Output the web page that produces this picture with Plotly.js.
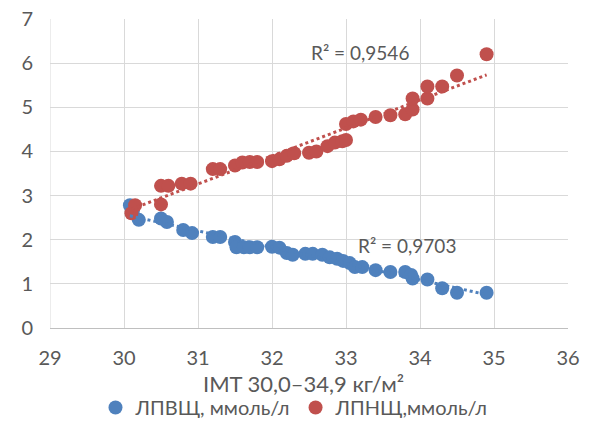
<!DOCTYPE html>
<html>
<head>
<meta charset="utf-8">
<script src="https://cdn.plot.ly/plotly-3.0.1.min.js"></script>
<style>html,body{margin:0;padding:0;background:#fff}#chart{width:589px;height:427px}</style>
</head>
<body>
<div id="chart"></div>
<script>
// Data
const hdlX = [30.08, 30.12, 30.2, 30.5, 30.58, 30.8, 30.92, 31.2, 31.3, 31.5, 31.52, 31.62, 31.7, 31.8, 32.0, 32.1, 32.2, 32.28, 32.45, 32.55, 32.68, 32.78, 32.88, 32.96, 33.05, 33.12, 33.22, 33.4, 33.6, 33.8, 33.88, 33.9, 34.1, 34.3, 34.5, 34.9];
const hdlY = [2.78, 2.65, 2.45, 2.48, 2.40, 2.22, 2.15, 2.06, 2.06, 1.95, 1.83, 1.83, 1.83, 1.83, 1.84, 1.82, 1.70, 1.66, 1.68, 1.68, 1.66, 1.60, 1.57, 1.52, 1.47, 1.38, 1.38, 1.31, 1.27, 1.27, 1.20, 1.12, 1.10, 0.90, 0.80, 0.80];
const ldlX = [30.1, 30.15, 30.5, 30.5, 30.6, 30.78, 30.9, 31.2, 31.3, 31.5, 31.6, 31.7, 31.8, 32.0, 32.1, 32.2, 32.3, 32.5, 32.6, 32.75, 32.85, 32.95, 33.0, 33.0, 33.1, 33.2, 33.4, 33.6, 33.8, 33.9, 33.9, 34.1, 34.1, 34.3, 34.5, 34.9];
const ldlY = [2.6, 2.78, 2.8, 3.22, 3.22, 3.27, 3.27, 3.6, 3.6, 3.68, 3.75, 3.76, 3.76, 3.78, 3.82, 3.9, 3.96, 3.97, 4.0, 4.12, 4.2, 4.23, 4.26, 4.62, 4.68, 4.72, 4.78, 4.82, 4.84, 4.95, 5.2, 5.2, 5.47, 5.47, 5.72, 6.2];
const seriesNames = ["ЛПВЩ, ммоль/л", "ЛПНЩ,ммоль/л"];
const r2Labels = ["R² = 0,9703", "R² = 0,9546"];
const xTitle = "IMT 30,0–34,9 кг/м²";

function linFit(xs, ys) {
  const n = xs.length;
  const mx = xs.reduce((a, b) => a + b, 0) / n;
  const my = ys.reduce((a, b) => a + b, 0) / n;
  let sxy = 0, sxx = 0;
  for (let i = 0; i < n; i++) { sxy += (xs[i] - mx) * (ys[i] - my); sxx += (xs[i] - mx) ** 2; }
  const b = sxy / sxx, a = my - b * mx;
  const x0 = Math.min(...xs), x1 = Math.max(...xs);
  return { x: [x0, x1], y: [a + b * x0, a + b * x1] };
}

const blue = "#4f81bd", red = "#c0504d", grey = "#595959";
const fitH = linFit(hdlX, hdlY), fitL = linFit(ldlX, ldlY);

const traces = [
  { x: hdlX, y: hdlY, type: "scatter", mode: "markers", name: seriesNames[0],
    marker: { color: blue, size: 14 } },
  { x: ldlX, y: ldlY, type: "scatter", mode: "markers", name: seriesNames[1],
    marker: { color: red, size: 14 } },
  { x: fitH.x, y: fitH.y, type: "scatter", mode: "lines", showlegend: false, hoverinfo: "skip",
    line: { color: blue, width: 3, dash: "dot" } },
  { x: fitL.x, y: fitL.y, type: "scatter", mode: "lines", showlegend: false, hoverinfo: "skip",
    line: { color: red, width: 3, dash: "dot" } }
];

const font = { family: "Lato, 'Open Sans', sans-serif", color: grey };
const f = (s) => Object.assign({ size: s }, font);
const layout = {
  width: 589, height: 427,
  margin: { l: 50, r: 21, t: 19, b: 99 },
  paper_bgcolor: "#fff", plot_bgcolor: "#fff",
  font: f(19),
  showlegend: true,
  legend: { orientation: "h", x: 0.5, xanchor: "center", xref: "container",
    y: 0.0, yanchor: "bottom", yref: "container",
    font: f(20), itemwidth: 30, tracegroupgap: 0 },
  xaxis: { range: [29, 36], dtick: 1, tick0: 29, showgrid: true, gridcolor: "#d9d9d9", gridwidth: 1,
    zeroline: false, showline: true, linecolor: "#bfbfbf", linewidth: 1, ticks: "",
    ticklabelstandoff: 12, tickfont: f(20), automargin: false },
  yaxis: { range: [0, 7], dtick: 1, showgrid: true, gridcolor: "#d9d9d9", gridwidth: 1,
    zeroline: false, showline: false, ticks: "", ticklabelstandoff: 16, automargin: false,
    tickfont: f(20) },
  annotations: [
    { x: 33.82, y: 1.88, xref: "x", yref: "y", text: r2Labels[0], showarrow: false, font: f(19) },
    { x: 33.19, y: 6.23, xref: "x", yref: "y", text: r2Labels[1], showarrow: false, font: f(19) },
    { x: 0.49, y: -0.18, xref: "paper", yref: "paper", text: xTitle, showarrow: false,
      xanchor: "center", yanchor: "middle", font: f(22) }
  ],
  shapes: [
    { type: "line", xref: "x", yref: "paper", x0: 29, x1: 29, y0: 0, y1: 1, line: { color: "#d9d9d9", width: 1 }, layer: "below" }
  ]
};

Plotly.newPlot("chart", traces, layout, { displayModeBar: false, staticPlot: true });
</script>
</body>
</html>
